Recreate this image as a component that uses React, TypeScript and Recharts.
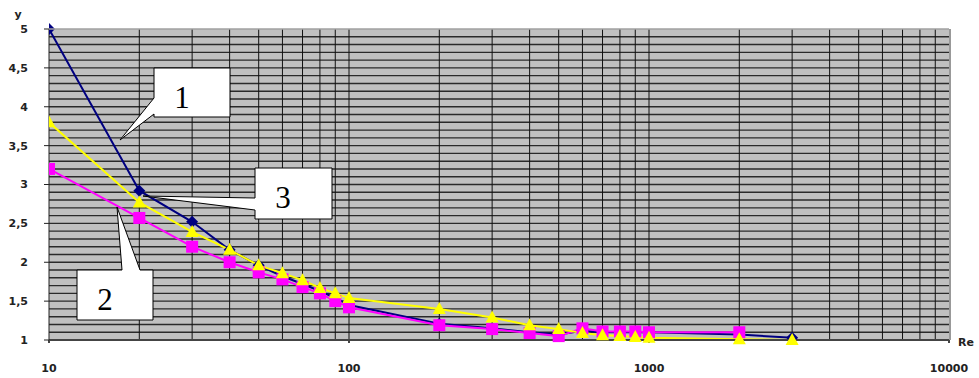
import React from 'react';
import { LineChart, Line, XAxis, YAxis, CartesianGrid } from 'recharts';

// Re values (x)
const reValues = [10, 20, 30, 40, 50, 60, 70, 80, 90, 100, 200, 300, 400, 500, 600, 700, 800, 900, 1000, 2000, 3000];
// curve 1 (navy diamonds)
const series1 = [5.0, 2.92, 2.52, 2.16, 1.96, 1.82, 1.72, 1.63, 1.54, 1.45, 1.21, 1.15, 1.1, 1.07, 1.12, 1.1, 1.1, 1.1, 1.1, 1.07, 1.03];
// curve 2 (magenta squares)
const series2 = [3.2, 2.57, 2.2, 2.0, 1.87, 1.78, 1.68, 1.6, 1.5, 1.42, 1.19, 1.14, 1.09, 1.05, 1.15, 1.11, 1.11, 1.11, 1.1, 1.1];
// curve 3 (yellow triangles)
const series3 = [3.8, 2.77, 2.39, 2.16, 1.96, 1.86, 1.77, 1.67, 1.6, 1.54, 1.4, 1.29, 1.19, 1.14, 1.09, 1.06, 1.05, 1.04, 1.03, 1.01, 1.0];

const xTicks = [10, 100, 1000, 10000];
const yTicks = [1, 1.5, 2, 2.5, 3, 3.5, 4, 4.5, 5];
const xGrid = [20, 30, 40, 50, 60, 70, 80, 90, 100, 200, 300, 400, 500, 600, 700, 800, 900, 1000, 2000, 3000, 4000, 5000, 6000, 7000, 8000, 9000];
const yGrid = [1.1, 1.2, 1.3, 1.4, 1.5, 1.6, 1.7, 1.8, 1.9, 2.0, 2.1, 2.2, 2.3, 2.4, 2.5, 2.6, 2.7, 2.8, 2.9, 3.0, 3.1, 3.2, 3.3, 3.4, 3.5, 3.6, 3.7, 3.8, 3.9, 4.0, 4.1, 4.2, 4.3, 4.4, 4.5, 4.6, 4.7, 4.8, 4.9];

const data1 = reValues.map((x, i) => ({ x, y: series1[i] }));
const data2 = series2.map((y, i) => ({ x: reValues[i], y }));
const data3 = reValues.map((x, i) => ({ x, y: series3[i] }));

const tickStyle = { fontFamily: 'DejaVu Sans', fontWeight: 'bold' as const, fontSize: 11, fill: '#222' };

const Diamond = (p: any) => {
  const { cx, cy, index } = p;
  if (cx == null || cy == null) return <g key={`d${index}`} />;
  return <polygon key={`d${index}`} points={`${cx},${cy - 6} ${cx + 6},${cy} ${cx},${cy + 6} ${cx - 6},${cy}`} fill="#000080" />;
};
const Square = (p: any) => {
  const { cx, cy, index } = p;
  if (cx == null || cy == null) return <g key={`s${index}`} />;
  return <rect key={`s${index}`} x={cx - 6} y={cy - 6} width={12} height={12} fill="#ff00ff" />;
};
const Triangle = (p: any) => {
  const { cx, cy, index } = p;
  if (cx == null || cy == null) return <g key={`t${index}`} />;
  return <polygon key={`t${index}`} points={`${cx},${cy - 7} ${cx + 6.5},${cy + 5} ${cx - 6.5},${cy + 5}`} fill="#ffff00" />;
};

const fmt = (v: number) => String(v).replace('.', ',');

export default function App() {
  return (
    <div style={{ position: 'absolute', left: 0, top: 0, width: 979, height: 378, background: '#fff' }}>
      <LineChart width={979} height={378} margin={{ top: 29, right: 30, bottom: 0, left: 0 }}>
        <CartesianGrid
          fill="#c0c0c0"
          fillOpacity={1}
          stroke="#2a2a2a"
          strokeWidth={1.4}
          vertical={false}
          horizontalValues={yGrid}
        />
        <CartesianGrid
          stroke="#111"
          horizontal={false}
          verticalValues={xGrid}
        />
        <XAxis
          type="number"
          dataKey="x"
          scale="log"
          domain={[10, 10000]}
          ticks={xTicks}
          allowDataOverflow
          height={38}
          tickSize={3}
          tickMargin={21}
          tick={tickStyle}
          stroke="#444"
          strokeWidth={2}
          interval={0}
        />
        <YAxis
          type="number"
          domain={[1, 5]}
          ticks={yTicks}
          width={49}
          tickSize={5}
          tickMargin={16}
          tick={tickStyle}
          tickFormatter={fmt}
          stroke="#222"
          interval={0}
        />
        <Line data={data1} dataKey="y" stroke="#000080" strokeWidth={2} dot={Diamond} isAnimationActive={false} />
        <Line data={data2} dataKey="y" stroke="#ff00ff" strokeWidth={2} dot={Square} isAnimationActive={false} />
        <Line data={data3} dataKey="y" stroke="#ffff00" strokeWidth={2} dot={Triangle} isAnimationActive={false} />
      </LineChart>
      <svg width={979} height={378} style={{ position: 'absolute', left: 0, top: 0, pointerEvents: 'none' }}>
        <line x1={49} y1={29} x2={949} y2={29} stroke="#a0a0a0" strokeWidth={1.5} />
        <line x1={950} y1={29} x2={950} y2={340} stroke="#999" strokeWidth={2} />
        <text x={18} y={18} textAnchor="middle" style={tickStyle}>y</text>
        <text x={958} y={346} style={tickStyle}>Re</text>
        <path d="M154,68 L230,68 L230,117 L154,117 L154,114 L120,140 L154,98 Z" fill="#fff" stroke="#000" strokeWidth={1} />
        <text x={182} y={108} textAnchor="middle" fontFamily="Liberation Serif" fontSize={31} fill="#000">1</text>
        <path d="M77,270 L122,270 L117,207 L140,270 L153,270 L153,320 L77,320 Z" fill="#fff" stroke="#000" strokeWidth={1} />
        <text x={105} y={310} textAnchor="middle" fontFamily="Liberation Serif" fontSize={31} fill="#000">2</text>
        <path d="M255,168 L332,168 L332,219 L255,219 L255,210 L143,196 L255,198 Z" fill="#fff" stroke="#000" strokeWidth={1} />
        <text x={283} y={208} textAnchor="middle" fontFamily="Liberation Serif" fontSize={31} fill="#000">3</text>
      </svg>
    </div>
  );
}
